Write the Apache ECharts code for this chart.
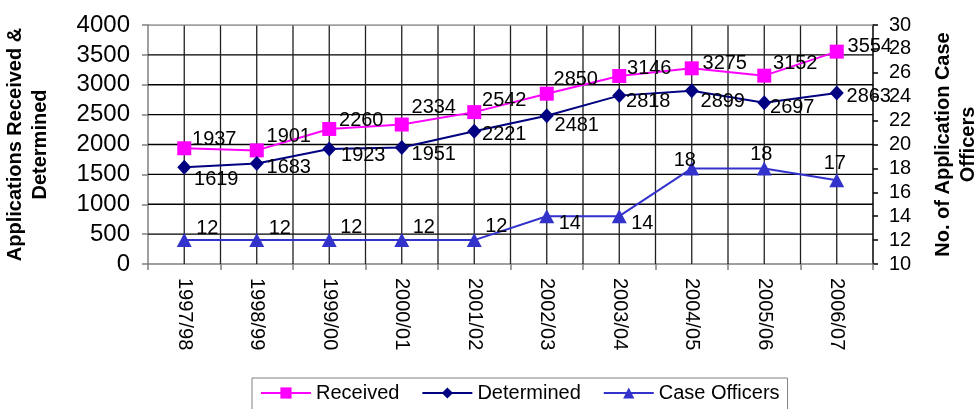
<!DOCTYPE html>
<html>
<head>
<meta charset="utf-8">
<title>Applications and Case Officers</title>
<script src="https://cdn.jsdelivr.net/npm/echarts@6/dist/echarts.min.js"></script>
<style>
  html, body { margin: 0; padding: 0; background: #ffffff; }
  #chart { width: 980px; height: 409px; }
</style>
</head>
<body>
<div id="chart"></div>
<script>
// Financial years on the category axis
const years = ['1997/98', '1998/99', '1999/00', '2000/01', '2001/02',
               '2002/03', '2003/04', '2004/05', '2005/06', '2006/07'];

// Applications received and determined per year
const received   = [1937, 1901, 2260, 2334, 2542, 2850, 3146, 3275, 3152, 3554];
const determined = [1619, 1683, 1923, 1951, 2221, 2481, 2818, 2899, 2697, 2863];

// Number of application case officers per year (right axis)
const caseOfficers = [12, 12, 12, 12, 12, 14, 14, 18, 18, 17];

// Left-axis gridline values
const leftTicks = [500, 1000, 1500, 2000, 2500, 3000, 3500];
const leftMax = 4000;

// Value-label nudges [dx, dy] from each marker's centre, in pixels
const receivedLabelShift = [[30, -9], [32, -14], [32, -8], [32, -17], [30, -12],
                            [29, -14], [30, -8], [33, -5], [31, -12], [33, -5]];
const determinedLabelShift = [[32, 12], [32, 4], [34, 6], [32, 7], [30, 3],
                              [30, 10], [29, 6], [31, 11], [28, 5], [32, 4]];
const officerLabelShift = [[23, -12], [23, -12], [22, -13], [22, -13], [22, -14],
                           [23, 7], [23, 7], [-7, -8], [-3, -14], [-2, -17]];

const FONT = '"Liberation Sans", Arial, sans-serif';

function withLabels(values, shifts) {
  return values.map((v, i) => ({
    value: v,
    label: { offset: shifts[i] }
  }));
}

const labelStyle = {
  show: true,
  position: 'inside',
  color: '#000000',
  fontFamily: FONT,
  fontSize: 20
};

// Gridline segments on a half-category scale (0 = left edge, 2 * years = right edge);
// a '-' point ends one segment before the next begins
const halfSteps = years.length * 2;
const hSegments = [];
leftTicks.forEach((v) => {
  hSegments.push([0, v], [halfSteps, v], [halfSteps, '-']);
});
const vSegments = [];
for (let k = 1; k < halfSteps; k++) {
  vSegments.push([k, 0], [k, leftMax], [k, '-']);
}
const frameTop = [[0, leftMax], [halfSteps, leftMax]];

const guideSeries = (name, data, color, width) => ({
  name: name, type: 'line', xAxisIndex: 1, yAxisIndex: 0,
  data: data, symbol: 'none', silent: true, connectNulls: false,
  lineStyle: { color: color, width: width },
  emphasis: { disabled: true },
  z: 1
});

const chart = echarts.init(document.getElementById('chart'), null, { renderer: 'canvas' });

chart.setOption({
  animation: false,
  backgroundColor: '#ffffff',
  grid: {
    left: 148, right: 107, top: 25, bottom: 145,
    containLabel: false,
    outerBoundsMode: 'none'
  },
  legend: {
    left: 252, top: 378,
    padding: [5, 8, 12, 8],
    borderColor: '#808080', borderWidth: 1,
    itemWidth: 50, itemHeight: 14, itemGap: 22,
    textStyle: { fontFamily: FONT, fontSize: 20, color: '#000000' },
    data: ['Received', 'Determined', 'Case Officers']
  },
  xAxis: [
    {
      type: 'category',
      data: years,
      boundaryGap: true,
      axisLine: { lineStyle: { color: '#808080', width: 1.5 } },
      axisTick: { show: true, interval: 0, length: 6, lineStyle: { color: '#808080', width: 1.5 } },
      axisLabel: {
        interval: 0, rotate: -90, margin: 14,
        color: '#000000', fontFamily: FONT, fontSize: 20
      },
      splitLine: { show: false }
    },
    {
      // half-category scale used only to place the gridlines
      type: 'value', min: 0, max: halfSteps,
      show: false
    }
  ],
  yAxis: [
    {
      type: 'value', min: 0, max: leftMax, interval: 500,
      name: 'Applications Received &\nDetermined',
      nameLocation: 'middle', nameRotate: 90, nameGap: 95,
      nameTextStyle: { fontFamily: FONT, fontSize: 20, fontWeight: 'bold', color: '#000000', lineHeight: 25, align: 'center' },
      axisLine: { show: true, lineStyle: { color: '#808080', width: 1.5 } },
      axisTick: { show: true, length: 6, lineStyle: { color: '#808080', width: 1.5 } },
      axisLabel: {
        margin: 18, color: '#000000', fontFamily: FONT, fontSize: 24,
        formatter: (v) => String(v)
      },
      splitLine: { show: false }
    },
    {
      type: 'value', min: 10, max: 30, interval: 2,
      position: 'right',
      name: 'No. of Application Case\nOfficers',
      nameLocation: 'middle', nameRotate: 90, nameGap: 58,
      nameTextStyle: { fontFamily: FONT, fontSize: 20, fontWeight: 'bold', color: '#000000', lineHeight: 25, align: 'center' },
      axisLine: { show: true, lineStyle: { color: '#000000', width: 1.5 } },
      axisTick: { show: true, length: 5, lineStyle: { color: '#000000', width: 1.5 } },
      axisLabel: { margin: 16, color: '#000000', fontFamily: FONT, fontSize: 20 },
      splitLine: { show: false }
    }
  ],
  series: [
    guideSeries('hGuides', hSegments, '#000000', 1.3),
    guideSeries('vGuides', vSegments, '#202020', 1.3),
    guideSeries('frame', frameTop, '#808080', 1.5),
    {
      name: 'Received', type: 'line', xAxisIndex: 0, yAxisIndex: 0,
      data: withLabels(received, receivedLabelShift),
      symbol: 'rect', symbolSize: 14,
      lineStyle: { color: '#FF00FF', width: 2 },
      itemStyle: { color: '#FF00FF' },
      label: labelStyle,
      z: 4
    },
    {
      name: 'Determined', type: 'line', xAxisIndex: 0, yAxisIndex: 0,
      data: withLabels(determined, determinedLabelShift),
      symbol: 'diamond', symbolSize: [14, 15],
      lineStyle: { color: '#000080', width: 2 },
      itemStyle: { color: '#000080' },
      label: labelStyle,
      z: 4
    },
    {
      name: 'Case Officers', type: 'line', xAxisIndex: 0, yAxisIndex: 1,
      data: withLabels(caseOfficers, officerLabelShift),
      symbol: 'triangle', symbolSize: [15, 14],
      lineStyle: { color: '#3333CC', width: 2 },
      itemStyle: { color: '#3333CC' },
      label: labelStyle,
      z: 4
    }
  ]
});
</script>
</body>
</html>
